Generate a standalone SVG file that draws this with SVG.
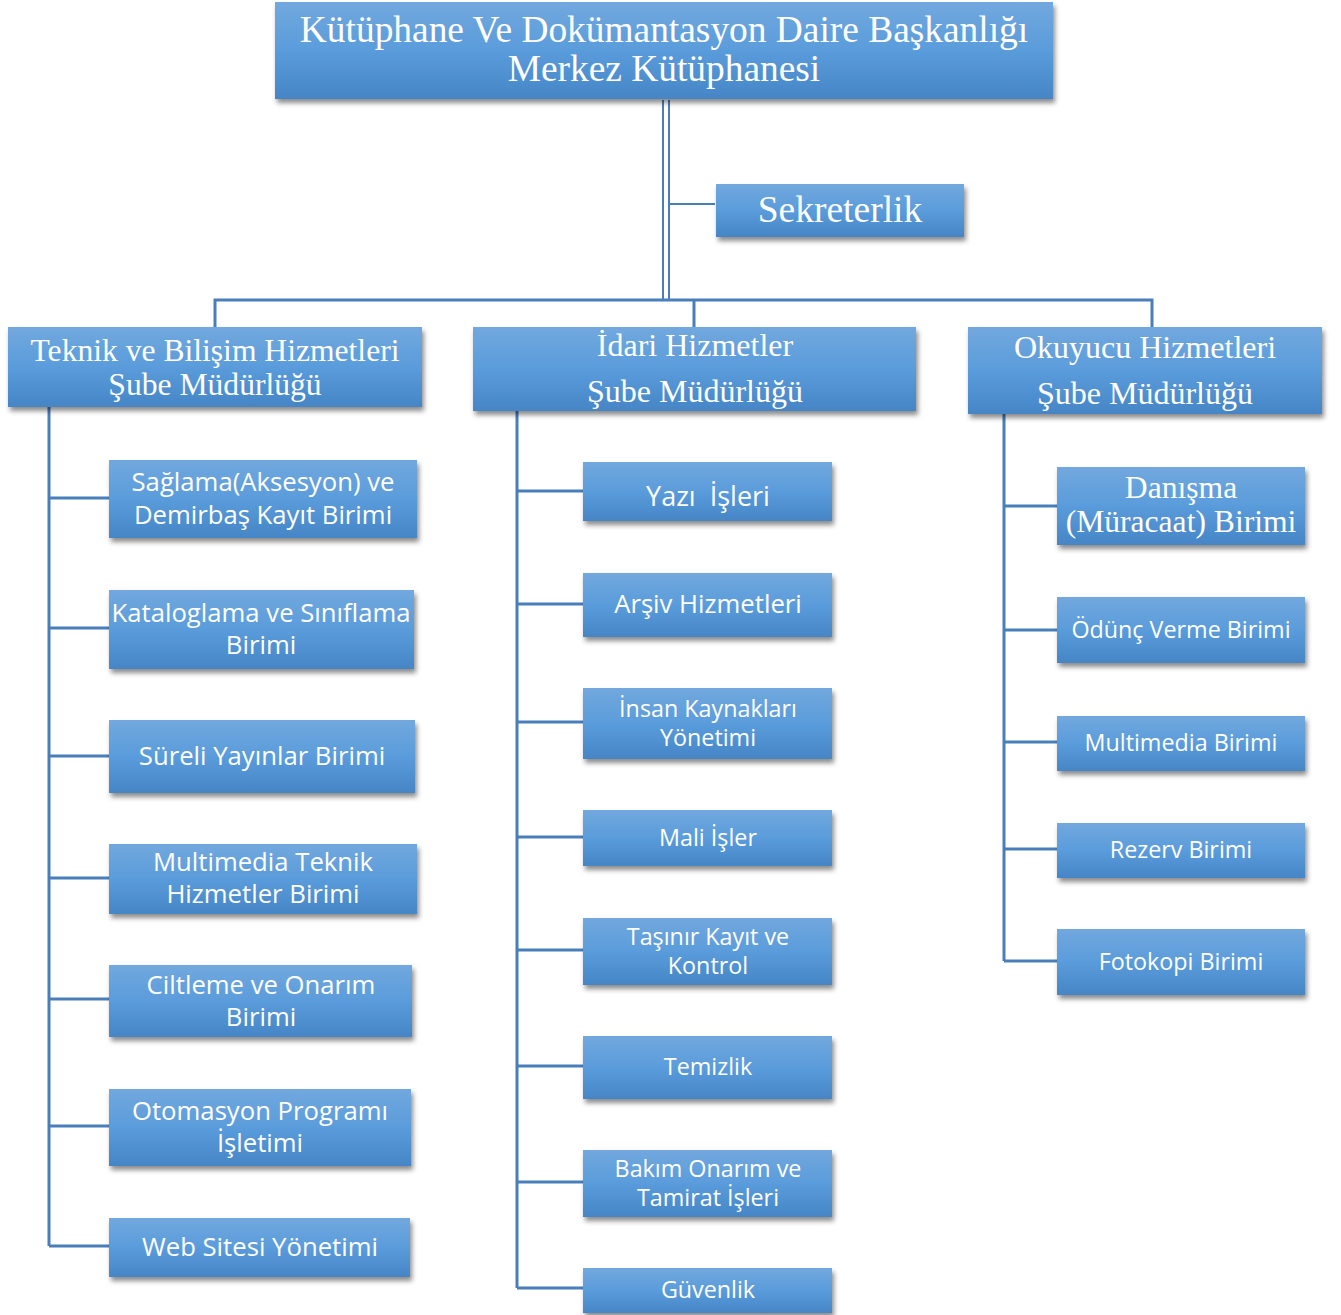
<svg xmlns="http://www.w3.org/2000/svg" width="1341" height="1315" viewBox="0 0 1341 1315">
<defs>
<linearGradient id="g" x1="0" y1="0" x2="0" y2="1">
<stop offset="0" stop-color="#72a8de"/>
<stop offset="0.5" stop-color="#5a9cdb"/>
<stop offset="1" stop-color="#4585c6"/>
</linearGradient>
<filter id="sh" x="-10%" y="-20%" width="120%" height="150%">
<feDropShadow dx="2" dy="4" stdDeviation="2.5" flood-color="#000" flood-opacity="0.45"/>
</filter>
</defs>
<style>
.b{fill:url(#g);filter:url(#sh)}
.c{stroke:#4a7ebb;stroke-width:3;fill:none}
.c2{stroke:#4a7ebb;stroke-width:2;fill:none}
.s{font-family:"Liberation Serif","Times New Roman",serif;fill:#fff;text-anchor:middle}
.n{font-family:"Open Sans","Noto Sans",sans-serif;fill:#fff;text-anchor:middle}
</style>
<rect width="1341" height="1315" fill="#fff"/>
<g id="connectors">
<path class="c2" d="M663 100V300M669 100V300M669 204H715"/>
<path class="c" d="M215 327V300H1152V327M694 300V327"/>
<path class="c" d="M49 407V1246M49 498H109M49 628H109M49 756H109M49 878H109M49 999H109M49 1126H109M49 1246H109"/>
<path class="c" d="M517 411V1288M517 491H583M517 604H583M517 722H583M517 837H583M517 950H583M517 1066H583M517 1182H583M517 1288H583"/>
<path class="c" d="M1004 414V961M1004 506H1057M1004 630H1057M1004 742H1057M1004 849H1057M1004 961H1057"/>
</g>
<g id="top"><rect class="b" x="275" y="2" width="778" height="97"/>
<text class="s" font-size="37.4" x="664" y="42">Kütüphane Ve Dokümantasyon Daire Başkanlığı</text>
<text class="s" font-size="37.4" x="664" y="81">Merkez Kütüphanesi</text></g>
<g id="sekreterlik"><rect class="b" x="716" y="184" width="248" height="53"/>
<text class="s" font-size="37.5" x="840" y="222">Sekreterlik</text></g>
<g id="teknik"><rect class="b" x="8" y="327" width="414" height="80"/>
<text class="s" font-size="31.6" x="215" y="361">Teknik ve Bilişim Hizmetleri</text>
<text class="s" font-size="31.6" x="215" y="395">Şube Müdürlüğü</text></g>
<g id="idari"><rect class="b" x="473" y="327" width="443" height="84"/>
<text class="s" font-size="32" x="695" y="356">İdari Hizmetler</text>
<text class="s" font-size="32" x="695" y="402">Şube Müdürlüğü</text></g>
<g id="okuyucu"><rect class="b" x="968" y="327" width="354" height="87"/>
<text class="s" font-size="32" x="1145" y="358">Okuyucu Hizmetleri</text>
<text class="s" font-size="32" x="1145" y="404">Şube Müdürlüğü</text></g>

<g id="t1"><rect class="b" x="109" y="460" width="308" height="78"/>
<text class="n" font-size="25.7" x="263" y="491">Sağlama(Aksesyon) ve</text>
<text class="n" font-size="25.7" x="263" y="524">Demirbaş Kayıt Birimi</text></g>
<g id="t2"><rect class="b" x="109" y="590" width="305" height="79"/>
<text class="n" font-size="25.7" x="261" y="622">Kataloglama ve Sınıflama</text>
<text class="n" font-size="25.7" x="261" y="654">Birimi</text></g>
<g id="t3"><rect class="b" x="109" y="720" width="306" height="73"/>
<text class="n" font-size="25.7" x="262" y="765">Süreli Yayınlar Birimi</text></g>
<g id="t4"><rect class="b" x="109" y="844" width="308" height="70"/>
<text class="n" font-size="25.7" x="263" y="871">Multimedia Teknik</text>
<text class="n" font-size="25.7" x="263" y="903">Hizmetler Birimi</text></g>
<g id="t5"><rect class="b" x="109" y="965" width="303" height="72"/>
<text class="n" font-size="25.7" x="261" y="994">Ciltleme ve Onarım</text>
<text class="n" font-size="25.7" x="261" y="1026">Birimi</text></g>
<g id="t6"><rect class="b" x="109" y="1089" width="302" height="77"/>
<text class="n" font-size="25.7" x="260" y="1120">Otomasyon Programı</text>
<text class="n" font-size="25.7" x="260" y="1152">İşletimi</text></g>
<g id="t7"><rect class="b" x="109" y="1218" width="301" height="59"/>
<text class="n" font-size="25.7" x="260" y="1256">Web Sitesi Yönetimi</text></g>

<g id="i1"><rect class="b" x="583" y="462" width="249" height="59"/>
<text class="n" font-size="27" x="708" y="506" xml:space="preserve">Yazı  İşleri</text></g>
<g id="i2"><rect class="b" x="583" y="573" width="249" height="64"/>
<text class="n" font-size="25.7" x="708" y="613">Arşiv Hizmetleri</text></g>
<g id="i3"><rect class="b" x="583" y="688" width="249" height="71"/>
<text class="n" font-size="23.3" x="708" y="717">İnsan Kaynakları</text>
<text class="n" font-size="23.3" x="708" y="746">Yönetimi</text></g>
<g id="i4"><rect class="b" x="583" y="810" width="249" height="56"/>
<text class="n" font-size="23.3" x="708" y="846">Mali İşler</text></g>
<g id="i5"><rect class="b" x="583" y="918" width="249" height="67"/>
<text class="n" font-size="23.3" x="708" y="945">Taşınır Kayıt ve</text>
<text class="n" font-size="23.3" x="708" y="974">Kontrol</text></g>
<g id="i6"><rect class="b" x="583" y="1036" width="249" height="63"/>
<text class="n" font-size="23.3" x="708" y="1075">Temizlik</text></g>
<g id="i7"><rect class="b" x="583" y="1150" width="249" height="67"/>
<text class="n" font-size="23.3" x="708" y="1177">Bakım Onarım ve</text>
<text class="n" font-size="23.3" x="708" y="1206">Tamirat İşleri</text></g>
<g id="i8"><rect class="b" x="583" y="1268" width="249" height="45"/>
<text class="n" font-size="23.3" x="708" y="1298">Güvenlik</text></g>

<g id="o1"><rect class="b" x="1057" y="467" width="248" height="78"/>
<text class="s" font-size="31.6" x="1181" y="498">Danışma</text>
<text class="s" font-size="31.6" x="1181" y="532">(Müracaat) Birimi</text></g>
<g id="o2"><rect class="b" x="1057" y="597" width="248" height="66"/>
<text class="n" font-size="23.3" x="1181" y="638">Ödünç Verme Birimi</text></g>
<g id="o3"><rect class="b" x="1057" y="716" width="248" height="55"/>
<text class="n" font-size="23.3" x="1181" y="751">Multimedia Birimi</text></g>
<g id="o4"><rect class="b" x="1057" y="823" width="248" height="55"/>
<text class="n" font-size="23.3" x="1181" y="858">Rezerv Birimi</text></g>
<g id="o5"><rect class="b" x="1057" y="929" width="248" height="66"/>
<text class="n" font-size="23.3" x="1181" y="970">Fotokopi Birimi</text></g>
</svg>
